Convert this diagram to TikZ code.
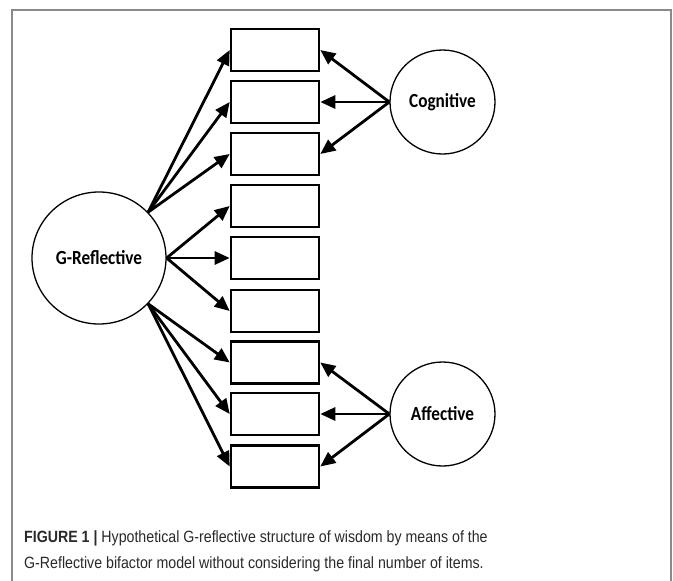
\documentclass[tikz,border=0pt]{standalone}
\usepackage{fontspec}
\setmainfont{Liberation Sans}
\newfontfamily\capfont[FakeStretch=0.87]{Liberation Sans}
\newfontfamily\calib[FakeStretch=0.86]{Carlito}
\usetikzlibrary{arrows.meta,shapes.geometric}
\definecolor{framegray}{HTML}{8A8A8A}
\definecolor{captext}{HTML}{2A2A2A}
\begin{document}
\begin{tikzpicture}[x=1pt,y=-1pt,
  item/.style={draw,line width=2.6pt,minimum width=88pt,minimum height=42pt,inner sep=0pt},
  latent/.style={draw,ellipse,line width=1.3pt,inner sep=0pt,font=\calib\bfseries\fontsize{20}{23}\selectfont},
  path/.style={line width=2.8pt,-{Triangle[length=15pt,width=13pt]}},
  captxt/.style={anchor=west,inner sep=0pt,text=captext,font=\capfont\fontsize{16.3}{19}\selectfont}]
\useasboundingbox (0,0) rectangle (673,581);
\fill[white] (0,0) rectangle (673,581);
\draw[framegray,line width=1.3pt] (12,581) -- (12,10) -- (671,10) -- (671,581);
% items
\foreach \i/\y in {1/50,2/102,3/154,4/206,5/258,6/311,7/362.5,8/414,9/466.5}
  \node[item] (b\i) at (275,\y) {};
% latent factors
\node[latent,minimum width=134pt,minimum height=132pt] (g) at (99,258) {G-Reflective};
\node[latent,minimum width=105pt,minimum height=104pt] (c) at (442.5,102) {Cognitive};
\node[latent,minimum width=105pt,minimum height=104pt] (a) at (442.5,414) {Affective};
% G-Reflective loadings
\foreach \i in {1,2,3} \draw[path] (g.43) -- (b\i.west);
\foreach \i in {4,5,6} \draw[path] (g.east) -- (b\i.west);
\foreach \i in {7,8,9} \draw[path] (g.-43) -- (b\i.west);
% specific factors
\foreach \i in {1,2,3} \draw[path] (c.west) -- (b\i.east);
\foreach \i in {7,8,9} \draw[path] (a.west) -- (b\i.east);
% caption
\node[captxt] (cap1) at (24,538) {\textbf{FIGURE 1 |} Hypothetical G-reflective structure of wisdom by means of the};
\node[captxt] (cap2) at (24,564) {G-Reflective bifactor model without considering the final number of items.};
\end{tikzpicture}
\end{document}
